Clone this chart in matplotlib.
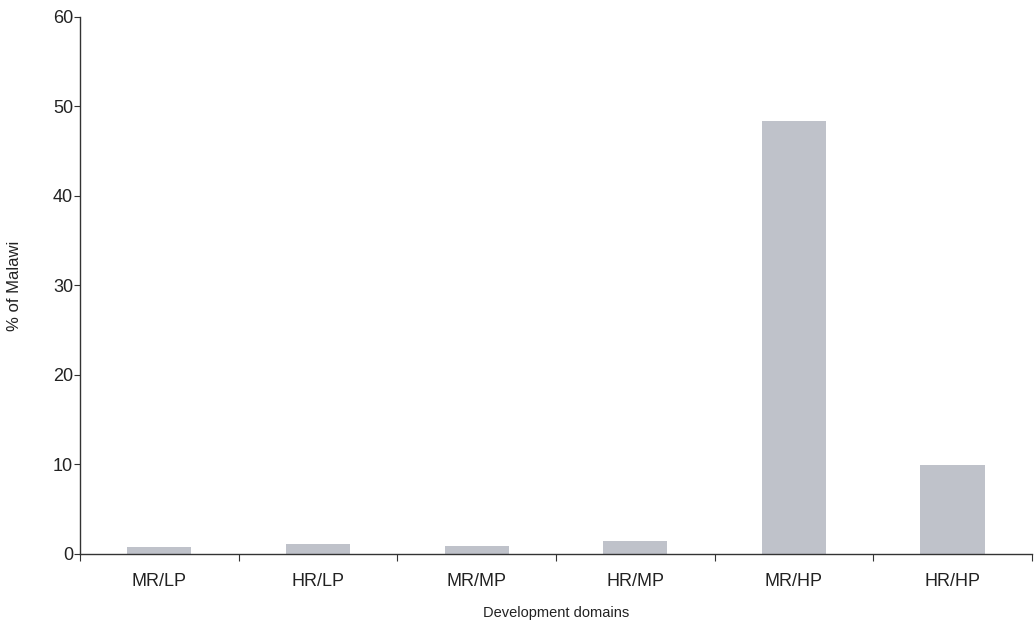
import matplotlib
matplotlib.use('Agg')
import matplotlib.pyplot as plt
import numpy as np

categories = ['MR/LP', 'HR/LP', 'MR/MP', 'HR/MP', 'MR/HP', 'HR/HP']
values = [0.8, 1.1, 0.9, 1.4, 48.4, 9.9]
yticks = [0, 10, 20, 30, 40, 50, 60]

plt.rcParams['font.family'] = ['Liberation Sans', 'DejaVu Sans']
axis_col = '#333333'
text_col = '#222222'

fig = plt.figure(figsize=(10.34, 6.24), dpi=100)
ax = fig.add_axes([0.0774, 0.1122, 0.9206, 0.8606])

x = np.arange(len(categories))
ax.bar(x, values, width=0.405, color='#bfc2ca', zorder=2)

ax.set_xlim(-0.5, len(categories) - 0.5)
ax.set_ylim(0, 60)
ax.set_yticks(yticks)
ax.set_yticklabels([str(v) for v in yticks], fontsize=13, color=text_col)

# boundary ticks (major) without labels, category labels on minor ticks
ax.set_xticks(np.arange(-0.5, len(categories), 1.0))
ax.set_xticklabels([])
ax.set_xticks(x, minor=True)
ax.set_xticklabels(categories, minor=True, fontsize=13, color=text_col)
ax.tick_params(axis='x', which='major', length=5, width=0.8, color=axis_col, direction='out')
ax.tick_params(axis='x', which='minor', length=0, pad=14)
ax.tick_params(axis='y', length=4, width=0.8, color=axis_col, pad=1)

for s in ['top', 'right']:
    ax.spines[s].set_visible(False)
for s in ['left', 'bottom']:
    ax.spines[s].set_color(axis_col)
    ax.spines[s].set_linewidth(1.0)

ax.set_xlabel('Development domains', fontsize=10.5, color=text_col, labelpad=11)
ax.set_ylabel('% of Malawi', fontsize=12, color=text_col, labelpad=22)

fig.savefig('out.png', dpi=100)
